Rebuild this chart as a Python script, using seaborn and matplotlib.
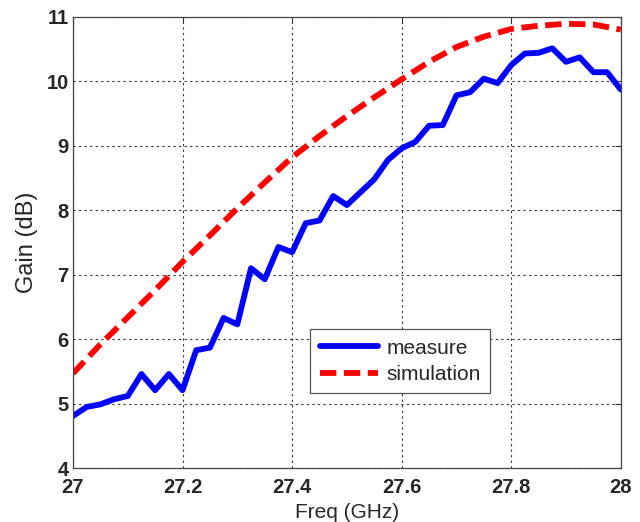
import numpy as np
import pandas as pd
import matplotlib
matplotlib.use("Agg")
import matplotlib.pyplot as plt
import seaborn as sns

freq_measure = [27.000, 27.025, 27.050, 27.075, 27.100, 27.125, 27.150, 27.175, 27.200, 27.225,
                27.250, 27.275, 27.300, 27.325, 27.350, 27.375, 27.400, 27.425, 27.450, 27.475,
                27.500, 27.525, 27.550, 27.575, 27.600, 27.625, 27.650, 27.675, 27.700, 27.725,
                27.750, 27.775, 27.800, 27.825, 27.850, 27.875, 27.900, 27.925, 27.950, 27.975, 28.000]
gain_measure = [4.81, 4.95, 4.99, 5.07, 5.12, 5.46, 5.21, 5.46, 5.21, 5.83,
                5.87, 6.33, 6.23, 7.10, 6.93, 7.43, 7.35, 7.80, 7.84, 8.22,
                8.08, 8.28, 8.48, 8.78, 8.96, 9.06, 9.31, 9.32, 9.78, 9.83,
                10.04, 9.97, 10.25, 10.43, 10.44, 10.51, 10.30, 10.37, 10.14, 10.14, 9.87]

freq_sim = [27.00, 27.05, 27.10, 27.15, 27.20, 27.25, 27.30, 27.35, 27.40, 27.45, 27.50,
            27.55, 27.60, 27.65, 27.70, 27.75, 27.80, 27.85, 27.90, 27.95, 28.00]
gain_sim = [5.47, 5.92, 6.34, 6.76, 7.20, 7.61, 8.03, 8.43, 8.82, 9.15, 9.46,
            9.75, 10.03, 10.30, 10.53, 10.69, 10.81, 10.86, 10.89, 10.88, 10.80]

x_ticks = [27, 27.2, 27.4, 27.6, 27.8, 28]
x_tick_labels = ["27", "27.2", "27.4", "27.6", "27.8", "28"]
y_ticks = [4, 5, 6, 7, 8, 9, 10, 11]

sns.set_style("white")
plt.rcParams['font.family'] = ['Liberation Sans', 'DejaVu Sans']

df_m = pd.DataFrame({"freq": freq_measure, "gain": gain_measure})
df_s = pd.DataFrame({"freq": freq_sim, "gain": gain_sim})

fig = plt.figure(figsize=(6.40, 5.22), dpi=100)
ax = fig.add_axes([0.114, 0.103, 0.856, 0.865])

sns.lineplot(data=df_m, x="freq", y="gain", ax=ax, color="#0000ff", linewidth=4.2,
             label="measure", sort=False)
sns.lineplot(data=df_s, x="freq", y="gain", ax=ax, color="#ff0000", linewidth=4.2,
             label="simulation", sort=False, linestyle=(0, (2.8, 1.3)))

ax.set_xlim(27, 28)
ax.set_ylim(4, 11)
ax.set_xticks(x_ticks)
ax.set_xticklabels(x_tick_labels)
ax.set_yticks(y_ticks)
for lbl in ax.get_xticklabels() + ax.get_yticklabels():
    lbl.set_fontweight("bold")
    lbl.set_fontsize(14.5)

ax.grid(True, color="#333333", linestyle=(0, (2, 3)), linewidth=0.8)
ax.tick_params(direction="in", length=4, top=True, right=True, color="#333333")
ax.tick_params(axis="x", pad=7)
ax.tick_params(axis="y", pad=3)
for sp in ax.spines.values():
    sp.set_color("#444444")
    sp.set_linewidth(0.9)

ax.set_xlabel("Freq (GHz)", fontsize=15, labelpad=4)
ax.set_ylabel("Gain (dB)", fontsize=17, labelpad=6)

leg = ax.legend(loc="lower left", bbox_to_anchor=(0.433, 0.166), borderaxespad=0,
                fontsize=15, frameon=True, fancybox=False, framealpha=1,
                edgecolor="#555555", handlelength=2.8, borderpad=0.45,
                labelspacing=0.35, handletextpad=0.4)
leg.get_frame().set_linewidth(0.9)

fig.savefig("out.png", dpi=100)
